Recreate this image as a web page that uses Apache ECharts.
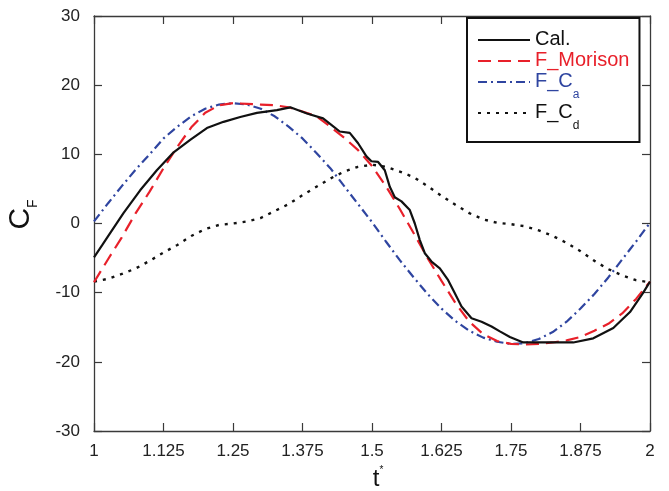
<!DOCTYPE html>
<html>
<head>
<meta charset="utf-8">
<script src="https://cdn.jsdelivr.net/npm/echarts@6/dist/echarts.min.js"></script>
<style>
html,body{margin:0;padding:0;background:#fff;}
#c{width:669px;height:491px;}
</style>
</head>
<body>
<div id="c"></div>
<script>
// ---- data ----
var xTicks = [1, 1.125, 1.25, 1.375, 1.5, 1.625, 1.75, 1.875, 2];
var yTicks = [-30, -20, -10, 0, 10, 20, 30];

// Cal. (measured, irregular sampling)
var tCal = [1.000,1.015,1.029,1.053,1.083,1.113,1.142,1.173,1.203,1.233,1.263,1.293,1.329,1.353,1.383,1.412,1.428,1.442,1.460,1.475,1.490,1.499,1.511,1.523,1.532,1.541,1.553,1.568,1.577,1.586,1.595,1.607,1.622,1.637,1.649,1.661,1.679,1.697,1.715,1.730,1.748,1.772,1.820,1.862,1.898,1.934,1.964,1.987,2.000];
var cal  = [-4.9,-3.1,-1.4,1.5,4.8,7.7,10.2,12.1,13.8,14.7,15.4,16.0,16.4,16.8,15.9,15.2,14.2,13.3,13.1,11.6,9.7,9.0,8.9,7.7,5.3,3.8,3.2,1.95,0.0,-2.4,-4.3,-5.5,-6.5,-8.2,-10.1,-12.0,-13.7,-14.2,-14.9,-15.6,-16.4,-17.2,-17.2,-17.2,-16.6,-15.1,-12.8,-10.1,-8.4];

// common time grid for the model curves
var tModel = [1.000,1.025,1.050,1.075,1.100,1.125,1.150,1.175,1.200,1.225,1.250,1.275,1.300,1.325,1.350,1.375,1.400,1.425,1.450,1.475,1.500,1.525,1.550,1.575,1.600,1.625,1.650,1.675,1.700,1.725,1.750,1.775,1.800,1.825,1.850,1.875,1.900,1.925,1.950,1.975,2.000];
var morison = [-8.5,-5.2,-2.0,1.5,4.6,8.0,11.1,13.9,16.0,17.1,17.4,17.3,17.2,17.1,16.8,16.2,15.5,14.0,12.4,10.6,8.3,5.4,2.1,-1.4,-5.0,-8.3,-11.5,-14.2,-16.0,-17.0,-17.4,-17.5,-17.4,-17.2,-16.9,-16.4,-15.5,-14.5,-13.0,-10.9,-8.4];
var fCa = [0.3,2.9,5.4,7.8,10.0,12.3,14.0,15.5,16.6,17.2,17.4,17.2,16.6,15.5,14.0,12.3,10.2,8.0,5.4,2.8,0.2,-2.6,-5.3,-7.8,-10.2,-12.3,-14.1,-15.5,-16.5,-17.1,-17.4,-17.3,-16.7,-15.7,-14.2,-12.3,-10.2,-7.8,-5.2,-2.6,0.1];
var fCd = [-8.4,-8.0,-7.3,-6.5,-5.4,-4.2,-3.1,-1.8,-0.8,-0.2,0.0,0.3,0.8,1.8,2.8,4.1,5.3,6.5,7.5,8.2,8.5,8.2,7.5,6.7,5.4,4.0,2.7,1.5,0.6,0.1,-0.1,-0.4,-1.0,-1.8,-2.8,-4.0,-5.4,-6.6,-7.5,-8.2,-8.5];

function pairs(t, v){ return t.map(function(x,i){ return [x, v[i]]; }); }

var FONT = 'Liberation Sans, Arial, sans-serif';
var AX = '#3a3a3a';

var chart = echarts.init(document.getElementById('c'), null, {renderer:'canvas'});

function xAx(pos, show){
  return {
    type:'value', position:pos, min:1, max:2, interval:0.125,
    axisLine:{show:true, onZero:false, lineStyle:{color:AX, width:1.3}},
    axisTick:{show:true, inside:true, length:8, lineStyle:{color:AX, width:1.2}},
    axisLabel:{show:show, color:'#222', fontSize:17, fontFamily:FONT, margin:12},
    splitLine:{show:false}
  };
}
function yAx(pos, show){
  return {
    type:'value', position:pos, min:-30, max:30, interval:10,
    axisLine:{show:true, onZero:false, lineStyle:{color:AX, width:1.3}},
    axisTick:{show:true, inside:true, length:8, lineStyle:{color:AX, width:1.2}},
    axisLabel:{show:show, color:'#222', fontSize:17, fontFamily:FONT, margin:14},
    splitLine:{show:false}
  };
}

var xa = xAx('bottom', true);
xa.name = '{t|t}{s|*}';
xa.nameLocation = 'middle';
xa.nameGap = 34;
xa.nameTextStyle = {padding:[0,0,0,12], rich:{
  t:{fontSize:24, fontFamily:FONT, color:'#111', verticalAlign:'bottom', lineHeight:26},
  s:{fontSize:10, fontFamily:FONT, color:'#111', verticalAlign:'top', lineHeight:26}
}};
var ya = yAx('left', true);
ya.name = '{c|C}{s|F}';
ya.nameLocation = 'middle';
ya.nameRotate = 90;
ya.nameGap = 54;
ya.nameTextStyle = {padding:[0,0,0,18], rich:{
  c:{fontSize:30, fontFamily:FONT, color:'#111', verticalAlign:'top', lineHeight:34},
  s:{fontSize:14, fontFamily:FONT, color:'#111', verticalAlign:'bottom', lineHeight:34}
}};

var legendRich = {
  b:{fontSize:20, fontFamily:FONT, lineHeight:22, verticalAlign:'top'},
  sb:{fontSize:12, fontFamily:FONT, lineHeight:12, verticalAlign:'top', padding:[18,0,0,0]}
};

chart.setOption({
  animation:false,
  backgroundColor:'#fff',
  grid:{left:94, right:19, top:16, bottom:60, containLabel:false, outerBoundsMode:'none'},
  xAxis:[xa, xAx('top', false)],
  yAxis:[ya, yAx('right', false)],
  legend:{
    left:467, top:18, orient:'vertical',
    padding:[11,10,10,10], itemGap:1,
    itemWidth:52, itemHeight:14,
    borderColor:'#111', borderWidth:2, backgroundColor:'#fff',
    itemStyle:{opacity:0},
    textStyle:{fontSize:20, fontFamily:FONT, rich:legendRich},
    data:[
      {name:'Cal.', textStyle:{color:'#111'}},
      {name:'F_Morison', textStyle:{color:'#e8202a'}},
      {name:'F_Ca', textStyle:{color:'#2f45a0'}},
      {name:'F_Cd', textStyle:{color:'#111'}}
    ],
    formatter:function(n){
      if(n==='F_Ca') return '{b|F_C}{sb|a}';
      if(n==='F_Cd') return '{b|F_C}{sb|d}';
      return '{b|'+n+'}';
    }
  },
  series:[
    {name:'Cal.', type:'line', data:pairs(tCal, cal), showSymbol:false, symbol:'none',
     lineStyle:{color:'#111', width:2.2, type:'solid'}, itemStyle:{color:'#111'}, z:5},
    {name:'F_Morison', type:'line', data:pairs(tModel, morison), showSymbol:false, symbol:'none',
     lineStyle:{color:'#e8202a', width:2.2, type:[13,7]}, itemStyle:{color:'#e8202a'}, z:4},
    {name:'F_Ca', type:'line', data:pairs(tModel, fCa), showSymbol:false, symbol:'none',
     lineStyle:{color:'#2f45a0', width:2.2, type:[9,4,2,4]}, itemStyle:{color:'#2f45a0'}, z:3},
    {name:'F_Cd', type:'line', data:pairs(tModel, fCd), showSymbol:false, symbol:'none',
     lineStyle:{color:'#111', width:2.4, type:[3,6]}, itemStyle:{color:'#111'}, z:2}
  ]
});
</script>
</body>
</html>
